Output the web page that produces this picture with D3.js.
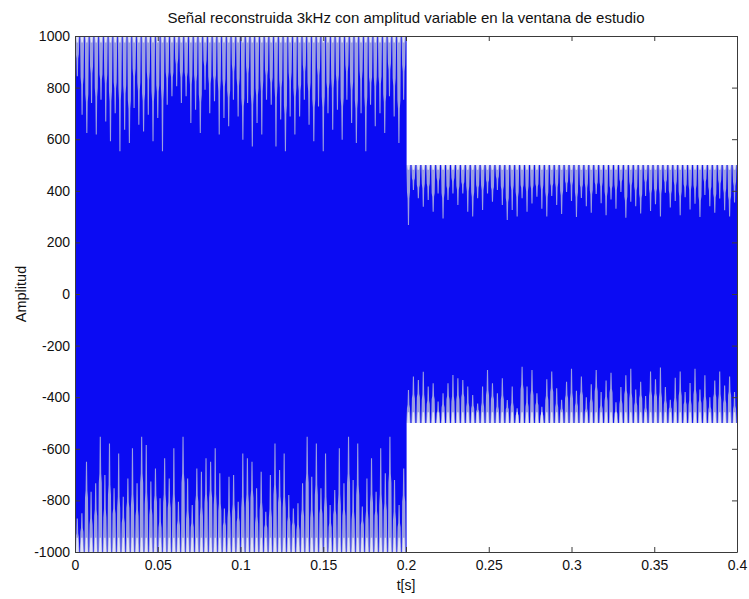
<!DOCTYPE html>
<html>
<head>
<meta charset="utf-8">
<script src="https://cdn.jsdelivr.net/npm/d3@7"></script>
<style>
  html, body { margin: 0; padding: 0; background: #fff; }
  svg { display: block; font-family: "Liberation Sans", Arial, Helvetica, sans-serif; }
</style>
</head>
<body>
<svg id="chart" width="749" height="599"></svg>
<script>
// ---------------- DATA ----------------
const titleText = "Señal reconstruida 3kHz con amplitud variable en la ventana de estudio";
const xLabelText = "t[s]";
const yLabelText = "Amplitud";

const xTicks = [0, 0.05, 0.1, 0.15, 0.2, 0.25, 0.3, 0.35, 0.4];
const xTickLabels = ["0", "0.05", "0.1", "0.15", "0.2", "0.25", "0.3", "0.35", "0.4"];
const yTicks = [-1000, -800, -600, -400, -200, 0, 200, 400, 600, 800, 1000];

// Signal segments: the 3 kHz signal fills a band of +/- amplitude
const segStart = [0, 0.2];
const segEnd = [0.2, 0.4];
const segAmp = [1000, 500];

// Depth of the whitish zone right at each envelope edge (top, bottom) per segment
const edgeTop = [975, 482];
const edgeBottom = [-945, -458];

// Tips of the lighter spikes (lowest value reached by each spike), left to right
const spikesTopA = [844, 695, 624, 740, 618, 753, 669, 592, 701, 553, 637, 585, 721, 656, 630, 695, 592, 682, 553, 734, 766, 805, 740,
  766, 663, 714, 624, 792, 701, 747, 618, 682, 650, 753, 688, 598, 740, 572, 663, 618, 753, 734, 572, 676, 553, 688,
  618, 688, 753, 656, 592, 727, 553, 701, 637, 714, 598, 753, 663, 585, 701, 553, 734, 650, 701, 624, 766, 688, 585, 753];
const spikesBottomA = [-870, -850, -650, -766, -734, -553, -702, -579, -753, -618, -786, -715, -598, -734, -553, -585, -727, -676, -792, -637, -715, -598, -805, -553,
  -715, -818, -676, -689, -637, -650, -598, -695, -831, -708, -702, -805, -618, -637, -650, -753, -689, -844, -702, -579, -682, -618, -779, -831,
  -811, -734, -553, -708, -579, -753, -618, -818, -760, -598, -734, -553, -721, -579, -824, -715, -637, -766, -598, -695, -553, -721, -818, -676];
const spikesTopB = [267, 403, 371, 338, 364, 319, 390, 293, 364, 390, 345, 390, 319, 300, 371, 326, 390, 358, 403, 345, 287, 326, 300, 371, 319, 351, 377,
  330, 300, 380, 345, 310, 395, 360, 298, 372, 340, 315, 388, 352, 305, 366, 330, 395, 296, 358, 340, 312, 380, 322,
  348, 300, 392, 335, 360, 305, 375, 328, 350, 298, 384, 340, 315, 370, 325, 300, 355];
const spikesBottomB = [-372, -320, -333, -301, -359, -346, -417, -385, -346, -314, -327, -333, -359, -391, -424, -359, -295, -346, -385, -327, -411, -359, -443, -282, -359, -295, -385, -437,
  -330, -300, -365, -410, -340, -290, -375, -320, -400, -350, -295, -380, -335, -305, -420, -360, -315, -290, -370, -340,
  -395, -300, -330, -285, -360, -410, -325, -300, -380, -345, -290, -370, -315, -400, -335, -300, -355, -320, -380];

// ---------------- LAYOUT ----------------
const W = 749, H = 599;
const margin = { left: 75, top: 36, right: 12, bottom: 47 };
const pw = W - margin.left - margin.right;
const ph = H - margin.top - margin.bottom;

const svg = d3.select("#chart");
const x = d3.scaleLinear().domain([0, 0.4]).range([margin.left, margin.left + pw]);
const y = d3.scaleLinear().domain([-1000, 1000]).range([margin.top + ph, margin.top]);

const COL_BLUE = "#0b0bf3";
const COL_LIGHT = "#9ca0e0";
const COL_EDGE = "#e2e4f5";

svg.append("defs").append("clipPath").attr("id", "plotclip")
  .append("rect").attr("x", margin.left).attr("y", margin.top).attr("width", pw).attr("height", ph);

const data = svg.append("g").attr("clip-path", "url(#plotclip)");

// solid signal band per segment
segStart.forEach((s, k) => {
  data.append("rect")
    .attr("x", x(s)).attr("y", y(segAmp[k]))
    .attr("width", x(segEnd[k]) - x(s) + (k === 0 ? 0.6 : 0))
    .attr("height", y(-segAmp[k]) - y(segAmp[k]))
    .attr("fill", COL_BLUE);
});

function drawSpikes(values, k, sign, edgeV) {
  const n = values.length;
  const idx = d3.scaleLinear().domain([0, n]).range([segStart[k], segEnd[k]]);
  const amp = sign * segAmp[k];
  const g = data.append("g");
  const edgeY = y(amp);
  values.forEach((v, i) => {
    const cx = x(idx(i + 0.5));
    const tipY = y(v);
    // shoulder: the wide part of each spike reaches a bit over half-way to its tip
    const frac = 0.45 + 0.15 * ((i * 7) % 3) / 2;
    const shY = edgeY + (tipY - edgeY) * frac;
    const w0 = 4.1, w1 = 3.0, w2 = 1.8;
    const pts = [
      [cx - w0 / 2, edgeY], [cx + w0 / 2, edgeY],
      [cx + w1 / 2, shY], [cx + w2 / 2, shY + (tipY - shY) * 0.2],
      [cx + w2 / 2 * 0.6, tipY], [cx - w2 / 2 * 0.6, tipY],
      [cx - w2 / 2, shY + (tipY - shY) * 0.2], [cx - w1 / 2, shY]
    ];
    g.append("polygon")
      .attr("points", pts.map(p => p.join(",")).join(" "))
      .attr("fill", COL_LIGHT);
    // whitish zone at the very edge
    const eY = y(edgeV);
    g.append("polygon")
      .attr("points", [[cx - 1.4, edgeY], [cx + 1.4, edgeY], [cx + 0.7, eY], [cx - 0.7, eY]].map(p => p.join(",")).join(" "))
      .attr("fill", COL_EDGE);
  });
}
drawSpikes(spikesTopA, 0, 1, edgeTop[0]);
drawSpikes(spikesBottomA, 0, -1, edgeBottom[0]);
drawSpikes(spikesTopB, 1, 1, edgeTop[1]);
drawSpikes(spikesBottomB, 1, -1, edgeBottom[1]);

// ---------------- AXES (MATLAB-like box, inward ticks) ----------------
const axisColor = "#3a3a3a";
const fontSize = 14;

const gx = svg.append("g").attr("transform", `translate(0,${margin.top + ph})`)
  .call(d3.axisBottom(x).tickValues(xTicks).tickFormat((d, i) => xTickLabels[i]).tickSizeInner(-5).tickSizeOuter(0).tickPadding(8));
const gxt = svg.append("g").attr("transform", `translate(0,${margin.top})`)
  .call(d3.axisTop(x).tickValues(xTicks).tickFormat("").tickSizeInner(-5).tickSizeOuter(0));
const gy = svg.append("g").attr("transform", `translate(${margin.left},0)`)
  .call(d3.axisLeft(y).tickValues(yTicks).tickFormat(d3.format("d")).tickSizeInner(-5).tickSizeOuter(0).tickPadding(5));
const gyr = svg.append("g").attr("transform", `translate(${margin.left + pw},0)`)
  .call(d3.axisRight(y).tickValues(yTicks).tickFormat("").tickSizeInner(-5).tickSizeOuter(0));

[gx, gxt, gy, gyr].forEach(g => {
  g.selectAll("path.domain").attr("stroke", axisColor).attr("stroke-width", 1);
  g.selectAll(".tick line").attr("stroke", axisColor).attr("stroke-width", 1);
  g.selectAll(".tick text").attr("fill", "#111").attr("font-size", fontSize)
    .attr("font-family", "'Liberation Sans', Arial, sans-serif");
});
gy.selectAll(".tick text").text(d => d < 0 ? "-" + Math.abs(d) : String(d));

// title and labels
svg.append("text")
  .attr("x", margin.left + pw / 2).attr("y", 23)
  .attr("text-anchor", "middle").attr("font-size", 15).attr("fill", "#111")
  .text(titleText);

svg.append("text")
  .attr("x", margin.left + pw / 2).attr("y", 590)
  .attr("text-anchor", "middle").attr("font-size", 14).attr("fill", "#111")
  .text(xLabelText);

svg.append("text")
  .attr("transform", `translate(26,${margin.top + ph / 2}) rotate(-90)`)
  .attr("text-anchor", "middle").attr("font-size", 14.5).attr("fill", "#111")
  .text(yLabelText);
</script>
</body>
</html>
